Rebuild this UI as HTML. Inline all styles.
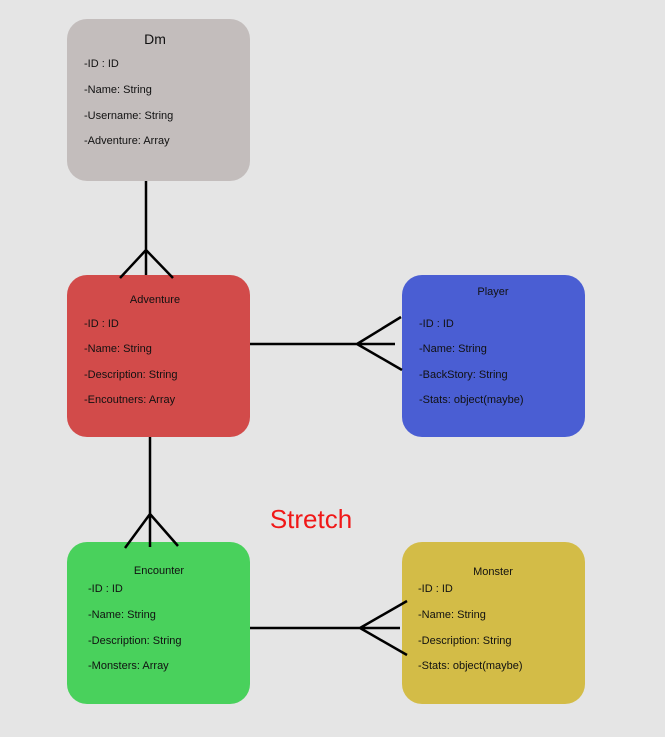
<!DOCTYPE html>
<html><head><style>body{margin:0;background:#e5e5e5}svg{display:block}text{font-family:"Liberation Sans",sans-serif;fill:#111}</style></head><body>
<svg width="665" height="737" viewBox="0 0 665 737">
<rect width="665" height="737" fill="#e5e5e5"/>
<rect x="67" y="19" width="183" height="162" rx="20" fill="#c3bdbc"/>
<rect x="67" y="275" width="183" height="162" rx="20" fill="#d24b4a"/>
<rect x="402" y="275" width="183" height="162" rx="20" fill="#4a5ed3"/>
<rect x="67" y="542" width="183" height="162" rx="20" fill="#49d15c"/>
<rect x="402" y="542" width="183" height="162" rx="20" fill="#d3bc47"/>
<g stroke="#000" stroke-width="2.5" fill="none">
<path d="M146 181V275M146 250L120 278M146 250L173 278"/>
<path d="M250 344H395M357 344L401 317M357 344L402 370"/>
<path d="M150 437V547M150 514L125 548M150 514L178 546"/>
<path d="M250 628H400M360 628L407 601M360 628L407 655"/>
</g>
<g font-size="11">
<text x="155" y="44" font-size="14" text-anchor="middle">Dm</text>
<text x="84" y="67">-ID : ID</text><text x="84" y="93">-Name: String</text><text x="84" y="119">-Username: String</text><text x="84" y="144">-Adventure: Array</text>
<text x="155" y="303" text-anchor="middle">Adventure</text>
<text x="84" y="327">-ID : ID</text><text x="84" y="352">-Name: String</text><text x="84" y="378">-Description: String</text><text x="84" y="403">-Encoutners: Array</text>
<text x="493" y="295" text-anchor="middle">Player</text>
<text x="419" y="327">-ID : ID</text><text x="419" y="352">-Name: String</text><text x="419" y="378">-BackStory: String</text><text x="419" y="403">-Stats: object(maybe)</text>
<text x="159" y="574" text-anchor="middle">Encounter</text>
<text x="88" y="592">-ID : ID</text><text x="88" y="618">-Name: String</text><text x="88" y="644">-Description: String</text><text x="88" y="669">-Monsters: Array</text>
<text x="493" y="575" text-anchor="middle">Monster</text>
<text x="418" y="592">-ID : ID</text><text x="418" y="618">-Name: String</text><text x="418" y="644">-Description: String</text><text x="418" y="669">-Stats: object(maybe)</text>
</g>
<text x="311" y="528" font-size="26" text-anchor="middle" style="fill:#f01818">Stretch</text>
</svg>
</body></html>
